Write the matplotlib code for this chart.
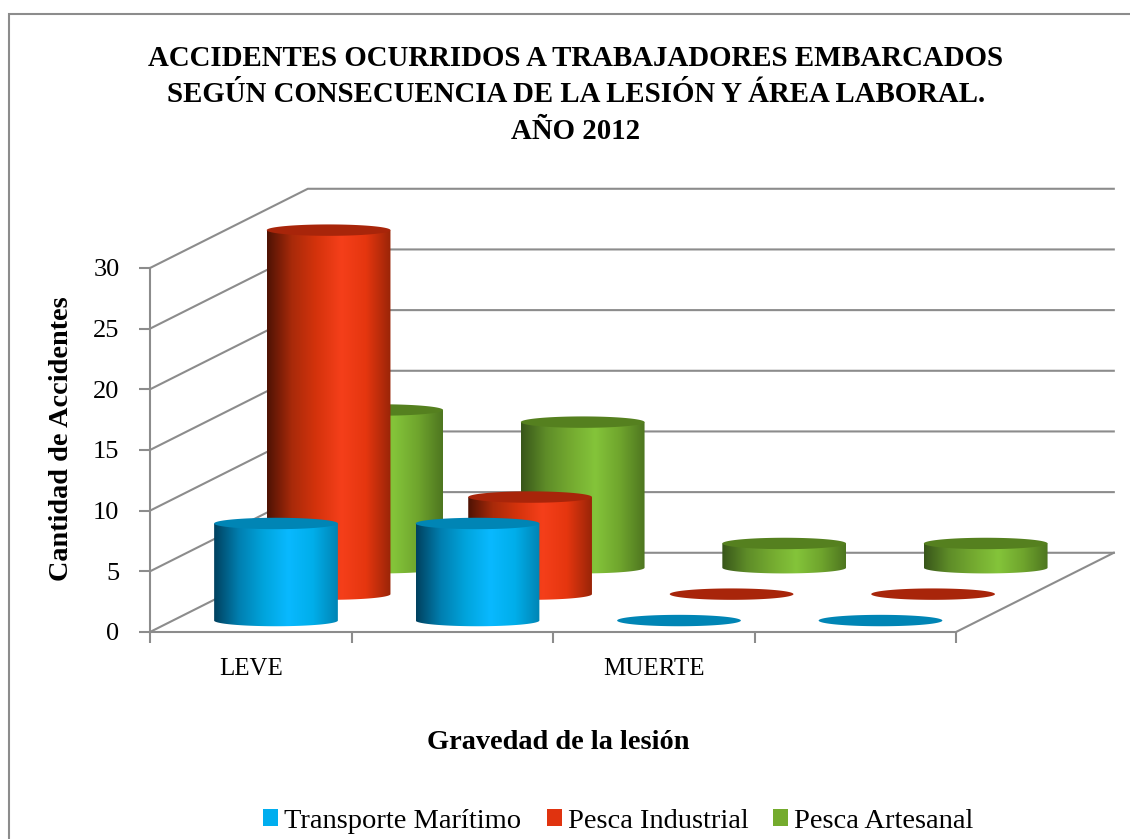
import numpy as np
import matplotlib
matplotlib.use("Agg")
import matplotlib.pyplot as plt
from matplotlib.colors import LinearSegmentedColormap
from matplotlib.patches import Patch, PathPatch, Rectangle
from matplotlib.path import Path

plt.rcParams["font.family"] = ["Liberation Serif", "DejaVu Serif"]

categories = ["LEVE", "", "MUERTE", ""]
series = ["Transporte Marítimo", "Pesca Industrial", "Pesca Artesanal"]
transporte = [8, 8, 0, 0]
industrial = [30, 8, 0, 0]
artesanal = [13, 12, 2, 2]
values = [transporte, industrial, artesanal]
yticks = [0, 5, 10, 15, 20, 25, 30]

title = ("ACCIDENTES OCURRIDOS A TRABAJADORES EMBARCADOS\n"
         "SEGÚN CONSECUENCIA DE LA LESIÓN Y ÁREA LABORAL.\nAÑO 2012")

gradients = [
    ["#00415f", "#007fb0", "#00a4dc", "#09b9ff", "#00aeea", "#0084b4"],
    ["#4e1204", "#a82a0a", "#d5330c", "#f53f1a", "#e5360f", "#9a2508"],
    ["#38561a", "#5e8c28", "#74aa30", "#84c43a", "#6fa52d", "#4e7620"],
]
top_colors = ["#0085b5", "#a8250a", "#55801f"]
legend_colors = ["#00aeef", "#e0330f", "#74ab2d"]
grid_color = "#8c8c8c"

# oblique projection, one depth unit per series
DX = 52.6 / 201.5
DY = 26.4 / 12.13
RX = 0.307
RY = 0.47
BASE = -0.1


def proj(cat, depth, val):
    return cat + depth * DX, val + depth * DY


fig = plt.figure(figsize=(11.3, 8.39), dpi=100)
ax = fig.add_axes([150 / 1130, 1 - 632 / 839, 806 / 1130, 364 / 839])
ax.patch.set_visible(False)

fig.add_artist(Rectangle((9 / 1130, -0.01), 1.1, 1 - 13.5 / 839 + 0.01, transform=fig.transFigure,
                         fill=False, ec="#8c8c8c", lw=1.5))

n_cat = len(categories)
n_ser = len(series)

# walls and floor
for v in yticks:
    x0, y0 = proj(0, 0, v)
    x1, y1 = proj(0, n_ser, v)
    x2, y2 = proj(n_cat, n_ser, v)
    ax.plot([x0, x1, x2], [y0, y1, y2], color=grid_color, lw=1.5, clip_on=False, zorder=1)
xa, ya = proj(n_cat, 0, 0)
xb, yb = proj(n_cat, n_ser, 0)
ax.plot([xa, xb], [ya, yb], color=grid_color, lw=1.5, clip_on=False, zorder=1)

# cylinders, back row first
t_low = np.linspace(np.pi, 2 * np.pi, 60)
t_all = np.linspace(0, 2 * np.pi, 120)
z = 2
for s in range(n_ser - 1, -1, -1):
    cmap = LinearSegmentedColormap.from_list("c%d" % s, gradients[s])
    grad = np.linspace(0, 1, 256).reshape(1, -1)
    for c in range(n_cat):
        val = values[s][c]
        cx, cy = proj(c + 0.5, s + 0.48, BASE)
        if val > 0:
            px = np.r_[cx + RX * np.cos(t_low), cx + RX, cx - RX]
            py = np.r_[cy + RY * np.sin(t_low), cy + val, cy + val]
            body = PathPatch(Path(np.c_[px, py]), transform=ax.transData, fc="none", ec="none")
            ax.add_patch(body)
            im = ax.imshow(grad, cmap=cmap, aspect="auto", interpolation="bilinear", zorder=z,
                           extent=(cx - RX, cx + RX, cy - 2 * RY, cy + val + RY))
            im.set_clip_path(body)
            im.set_clip_box(fig.bbox)
        top = PathPatch(Path(np.c_[cx + RX * np.cos(t_all), cy + val + RY * np.sin(t_all)]),
                        fc=top_colors[s], ec="none", clip_on=False, zorder=z + 1)
        ax.add_patch(top)
        z += 2

ax.set_xlim(0, n_cat)
ax.set_ylim(0, 30)
for side in ["top", "right"]:
    ax.spines[side].set_visible(False)
for side in ["left", "bottom"]:
    ax.spines[side].set_color(grid_color)
    ax.spines[side].set_linewidth(1.5)
ax.set_yticks(yticks)
ax.set_xticks(range(n_cat + 1))
ax.set_xticklabels([])
ax.set_xticks(np.arange(n_cat) + 0.5, minor=True)
ax.set_xticklabels(categories, minor=True, fontsize=18)
ax.tick_params(axis="x", which="major", length=8, width=1.5, color=grid_color)
ax.tick_params(axis="x", which="minor", length=0, pad=19)
ax.tick_params(axis="y", length=8, width=1.5, color=grid_color, labelsize=19, pad=14)

ax.set_xlabel("Gravedad de la lesión", fontsize=20.4, fontweight="bold", labelpad=36,
              x=(558 - 150) / 806)
ax.set_ylabel("Cantidad de Accidentes", fontsize=20.3, fontweight="bold", labelpad=14, y=0.53)

fig.text(576 / 1130, 1 - 95 / 839, title, ha="center", va="center", fontsize=20.8,
         fontweight="bold", linespacing=1.47)

handles = [Patch(fc=col, ec="none") for col in legend_colors]
fig.legend(handles, series, loc="center", bbox_to_anchor=(618.5 / 1130, 1 - 821 / 839), ncol=3,
           frameon=False, fontsize=20.5, handlelength=0.53, handleheight=0.53,
           handletextpad=0.21, columnspacing=0.88, borderpad=0, borderaxespad=0)

fig.savefig("out.png", dpi=100)
